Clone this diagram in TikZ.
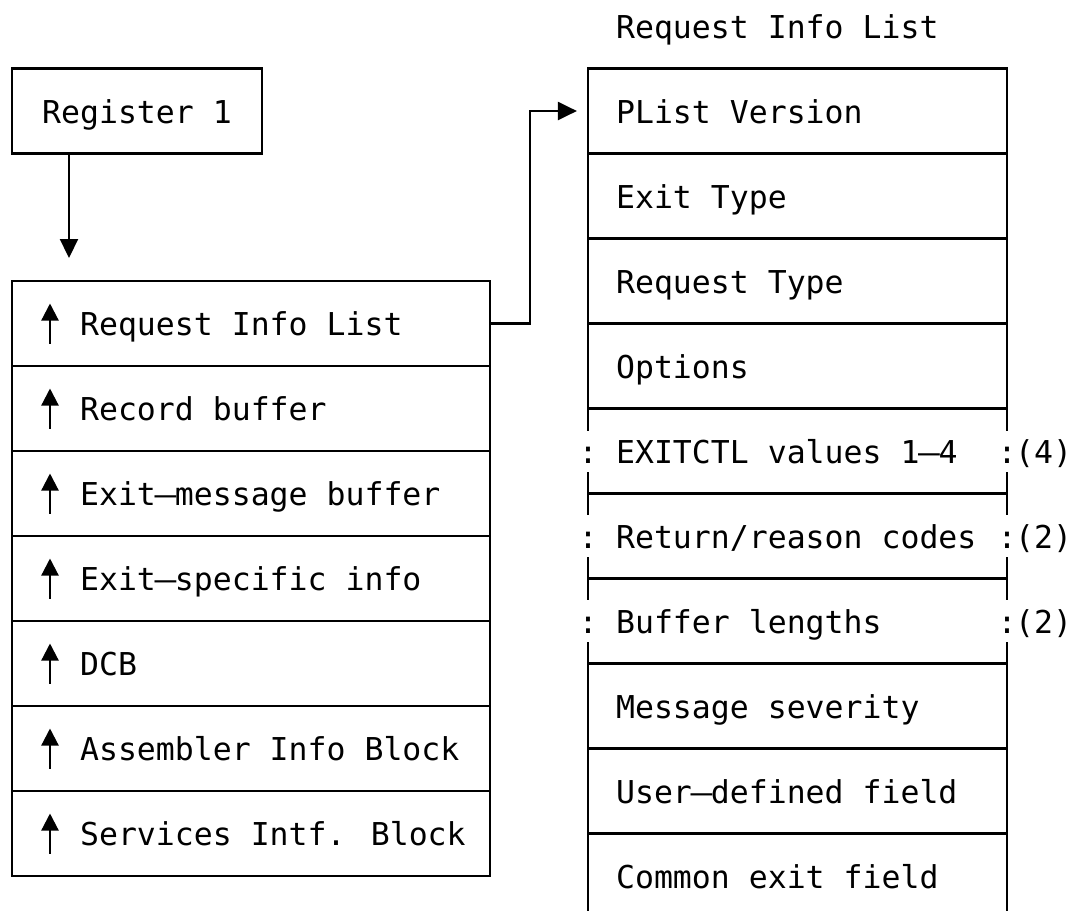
\documentclass[tikz,border=0pt]{standalone}
\usepackage{fontspec}
\newfontfamily\dmono{DejaVu Sans Mono}
\usetikzlibrary{arrows.meta,calc}
\newcommand\longdash{\makebox[0.602em]{\scalebox{1.15}[1]{—}}}
\begin{document}
\begin{tikzpicture}[x=1pt,y=-1pt,line width=2.2pt,
  mono/.style={inner sep=0pt,font=\dmono\fontsize{31.5}{38}\selectfont,text height=24pt,text depth=0pt},
  txt/.style={mono,anchor=west},
  colon/.style={mono,anchor=center},
  lcell/.style={minimum width=478pt,minimum height=85pt,inner sep=0pt},
  rcell/.style={minimum width=419pt,minimum height=85pt,inner sep=0pt},
  ptr/.style={-{Triangle[length=19pt,width=18pt]}},
  uptr/.style={-{Triangle[length=17pt,width=17pt]}},
  tbl/.style={line cap=rect}]
\useasboundingbox[fill=white] (0,0) rectangle (1076,911);

% title
\node[txt] (title) at (615,26) {Request Info List};

% register box
\node[mono,draw,tbl,line width=2.2pt,minimum width=250pt,minimum height=85pt] (reg) at (137,111) {Register 1};
\coordinate (regtip) at (69,258);
\draw[ptr] (regtip |- reg.south) -- (regtip);

% left table
\draw[tbl] (12,281) rectangle (490,876);
\foreach \y in {366,451,536,621,706,791} \draw[tbl] (12,\y) -- (490,\y);
\foreach \i/\y/\t in {1/323.5/{Request Info List},2/408.5/{Record buffer},3/493.5/{Exit\longdash message buffer},
  4/578.5/{Exit\longdash specific info},5/663.5/{DCB},6/748.5/{Assembler Info Block},7/833.5/{Services Intf. Block}}{
  \node[lcell] (l\i) at (251,\y) {};
  \node[txt] (lt\i) at (79,\y) {\t};
  \draw[uptr] (50,\y+20) -- (50,\y-20);
}

% right table
\foreach \y in {68.5,153.5,238.5,323.5,408.5,493.5,578.5,663.5,748.5,833.5}
  \draw[tbl] (588,\y) -- (1007,\y);
\foreach \x in {588,1007}{
  \draw[tbl] (\x,68.5) -- (\x,429.75);
  \draw (\x,472.25) -- (\x,514.75);
  \draw (\x,557.25) -- (\x,599.75);
  \draw (\x,642.25) -- (\x,911);
}
\foreach \i/\y/\t in {1/111/{PList Version},2/196/{Exit Type},3/281/{Request Type},4/366/{Options},
  5/451/{EXITCTL values 1\longdash 4},6/536/{Return/reason codes},7/621/{Buffer lengths},
  8/706/{Message severity},9/791/{User\longdash defined field},10/876/{Common exit field}}{
  \node[rcell] (r\i) at (797.5,\y) {};
  \node[txt] (rt\i) at (615,\y) {\t};
}
\foreach \i/\y/\n in {5/451/4,6/536/2,7/621/2}{
  \node[colon] (cl\i) at (588,\y) {:};
  \node[colon] (cr\i) at (1007,\y) {:};
  \node[txt] (cn\i) at (1014,\y) {(\n)};
}

% connector
\coordinate (bend) at (530,0);
\draw[ptr] (l1.east) -| (bend |- r1.west) -- ([xshift=-10pt]r1.west);
\end{tikzpicture}
\end{document}
